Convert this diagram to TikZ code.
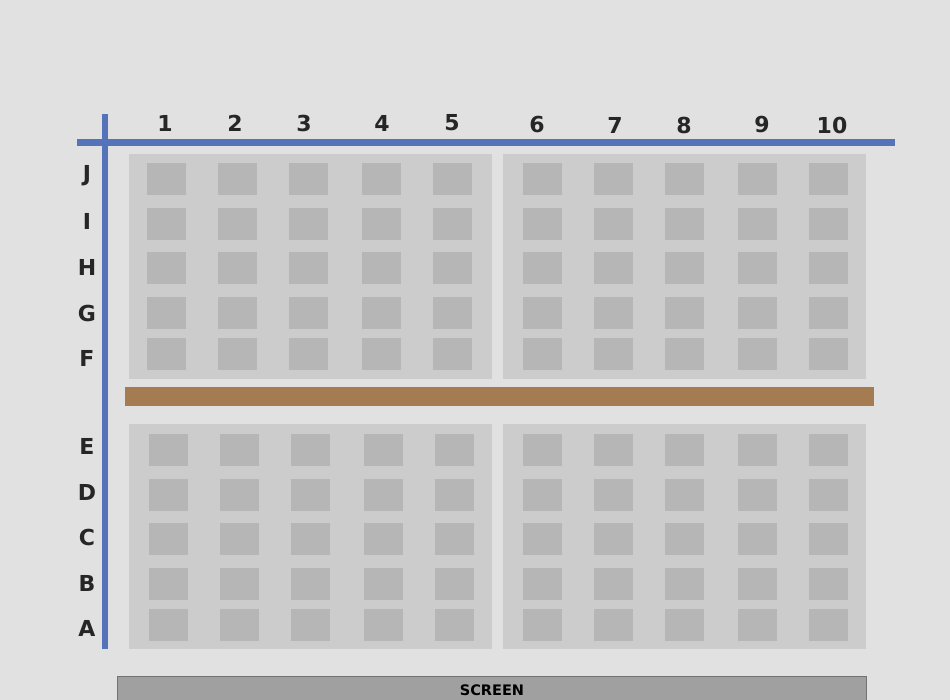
\documentclass[tikz,border=0pt]{standalone}
\usepackage{fontspec}
\setmainfont{DejaVu Sans}
\usetikzlibrary{positioning}
\definecolor{bgcol}{HTML}{E1E1E1}
\definecolor{panelcol}{HTML}{CCCCCC}
\definecolor{seatcol}{HTML}{B6B6B6}
\definecolor{axiscol}{HTML}{5573B8}
\definecolor{aislecol}{HTML}{A57C52}
\definecolor{screencol}{HTML}{A0A0A0}
\definecolor{labelcol}{HTML}{262626}
\tikzset{
  seat/.style={fill=seatcol, minimum width=39pt, minimum height=32pt, inner sep=0pt},
  panel/.style={fill=panelcol},
  lbl/.style={text=labelcol, font=\fontsize{22}{24}\selectfont\bfseries, inner sep=0pt},
}

\begin{document}
\begin{tikzpicture}[x=1pt, y=-1pt]
    % background, fixes the page size
    \useasboundingbox (0,0) rectangle (950,700);
    \fill[bgcol] (0,0) rectangle (950,700);

    % 1. Seat blocks
    \fill[panel] (129,154) rectangle (492,379);
    \fill[panel] (503,154) rectangle (866,379);
    \fill[panel] (129,424) rectangle (492,649);
    \fill[panel] (503,424) rectangle (866,649);

    % 2. Aisle between front and back
    \fill[aislecol] (125,387) rectangle (874,406);

    % 3. Axes
    \fill[axiscol] (102,114) rectangle (108,649);
    \fill[axiscol] (77,139) rectangle (895,146);

    % 4. Seats, back rows (J to F)
    \foreach \r/\y/\ly in {J/163/176, I/208/221, H/252/267, G/297/313, F/338/358} {
        \node[lbl] (row\r) at (87,\ly) {\r};
        \foreach \c/\x in {1/147, 2/218, 3/289, 4/362, 5/433, 6/523, 7/594, 8/665, 9/738, 10/809}
            \node[seat] (\r\c) at (\x+19.5,\y+16) {};
    }

    % 5. Seats, front rows (E to A)
    \foreach \r/\y/\ly in {E/433/446, D/478/492, C/522/537, B/567/583, A/608/628} {
        \node[lbl] (row\r) at (87,\ly) {\r};
        \foreach \c/\x in {1/149, 2/220, 3/291, 4/364, 5/435, 6/523, 7/594, 8/665, 9/738, 10/809}
            \node[seat] (\r\c) at (\x+19.5,\y+1+16) {};
    }

    % 6. Seat numbers
    \foreach \c/\x in {1/165, 2/235, 3/304, 4/382, 5/452}
        \node[lbl] (col\c) at (\x,123) {\c};
    \foreach \c/\x in {6/537, 7/615, 8/684, 9/762, 10/832}
        \node[lbl] (col\c) at (\x,125) {\c};

    % 7. Screen
    \node[draw=black!55, fill=screencol, line width=1pt, minimum width=749pt,
          minimum height=26pt, inner sep=0pt, anchor=north west,
          text=black, font=\fontsize{14.5}{16}\selectfont\bfseries,
          text depth=0pt] (screen) at (117,676) {\raisebox{-1pt}{SCREEN}};
\end{tikzpicture}
\end{document}
